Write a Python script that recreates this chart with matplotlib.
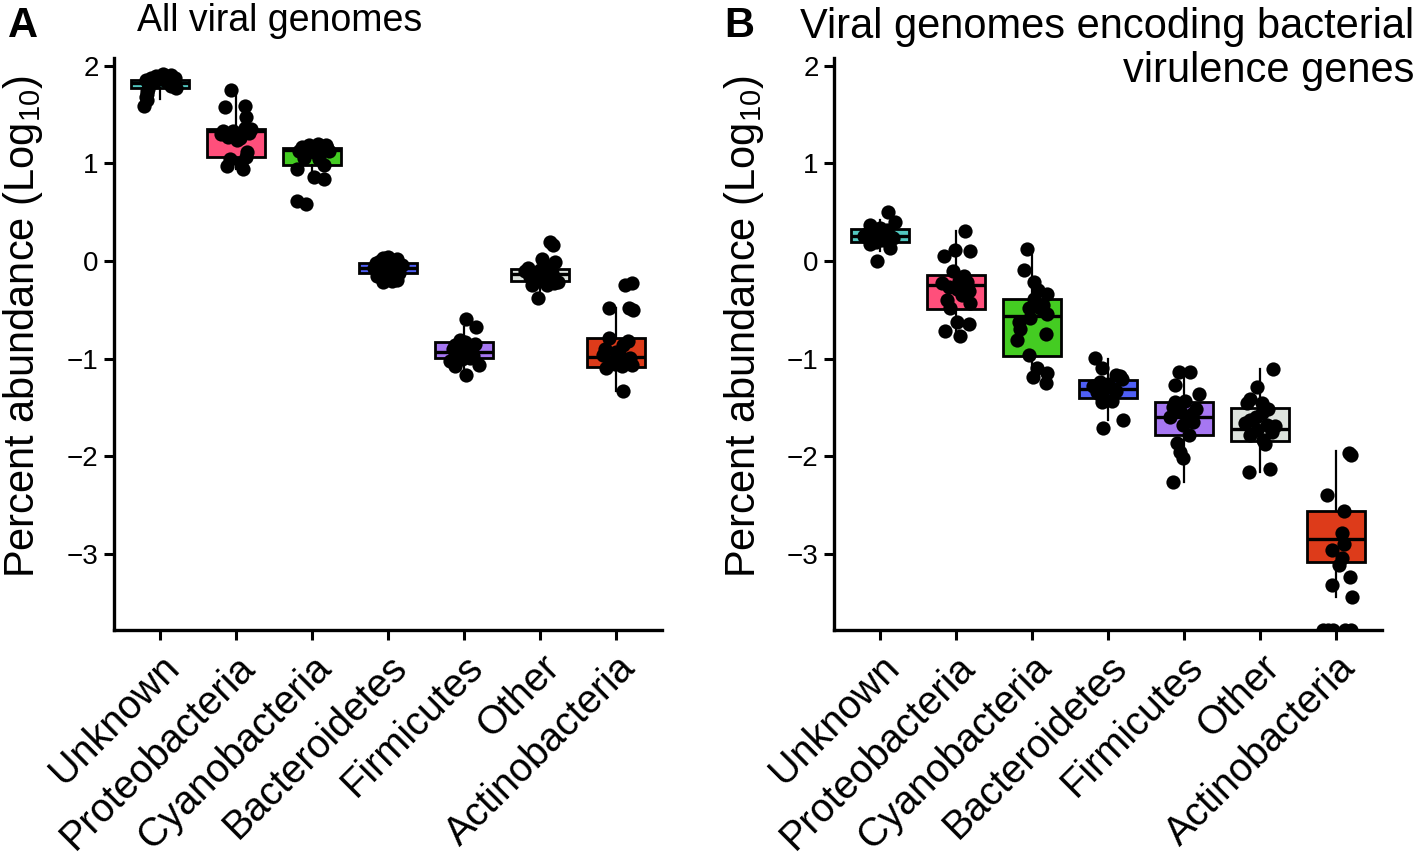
import numpy as np
import matplotlib.pyplot as plt
from matplotlib import rcParams

rcParams['font.family'] = ['Liberation Sans', 'DejaVu Sans']
rcParams['mathtext.default'] = 'regular'

categories = ['Unknown', 'Proteobacteria', 'Cyanobacteria', 'Bacteroidetes',
              'Firmicutes', 'Other', 'Actinobacteria']
colors = ['#52C7C0', '#FF4F7B', '#44CC22', '#4F5FF5', '#A677F2', '#DDE3DD', '#DD3B1A']

# ---- panel A: all viral genomes (log10 percent abundance) ----
# box stats: (whislo, q1, med, q3, whishi)
boxA = [
    (1.66, 1.77, 1.82, 1.855, 1.92),
    (0.94, 1.07, 1.33, 1.35, 1.75),
    (0.84, 0.985, 1.14, 1.16, 1.21),
    (-0.22, -0.12, -0.07, -0.02, 0.04),
    (-1.17, -0.99, -0.93, -0.834, -0.68),
    (-0.376, -0.205, -0.13, -0.082, 0.017),
    (-1.33, -1.084, -0.98, -0.787, -0.485),
]

unknownA = [1.92, 1.91, 1.90, 1.89, 1.88, 1.87, 1.86, 1.85, 1.84, 1.83,
            1.82, 1.81, 1.79, 1.77, 1.76, 1.74, 1.71, 1.68, 1.65, 1.59]
unknownA_jit = [0.05, 0.15, -0.05, 0.1, 0.2, -0.12, 0.0, -0.18, 0.08, -0.08,
                0.12, 0.18, 0.15, 0.22, -0.15, -0.17, -0.16, -0.18, -0.17, -0.2]
proteoA = [1.75, 1.58, 1.59, 1.48, 1.33, 1.33, 1.36, 1.27, 1.26, 1.31,
           1.07, 1.00, 0.97, 0.94, 1.31, 1.30, 1.24, 1.12, 1.35, 1.05]
proteoA_jit = [-0.06, -0.14, 0.12, 0.13, -0.17, -0.04, 0.12, -0.1, 0.05, -0.01,
               0.14, 0.07, -0.12, 0.09, 0.18, -0.2, 0.02, 0.15, 0.2, -0.08]
cyanoA = [1.19, 1.17, 1.13, 1.11, 1.06, 1.13, 1.15, 1.17, 1.19, 1.05,
          0.985, 0.94, 0.865, 0.84, 0.62, 0.585, 1.20, 1.12, 1.16]
cyanoA_jit = [-0.04, 0.13, -0.17, 0.05, -0.1, 0.22, 0.0, -0.13, 0.18, 0.09,
              0.16, -0.2, 0.03, 0.16, -0.2, -0.08, 0.08, -0.05, 0.2]
bacteroA = [0.028, 0.017, -0.024, -0.06, -0.04, -0.09, -0.1, -0.14, -0.21, -0.19,
            -0.2, 0.04, -0.02, -0.07, -0.12, -0.15, -0.05, -0.08, 0.0]
bacteroA_jit = [-0.07, 0.12, -0.16, 0.02, 0.19, -0.11, 0.08, -0.03, -0.07, 0.12,
                0.05, 0.0, 0.1, -0.18, 0.15, -0.14, 0.06, -0.05, -0.1]
firmiA = [-0.595, -0.68, -0.86, -0.83, -0.85, -0.95, -0.93, -1.02, -1.0, -1.07,
          -1.08, -1.17, -0.88, -0.9, -0.92, -0.97, -0.81, -0.99]
firmiA_jit = [0.03, 0.16, -0.12, 0.01, 0.14, -0.1, 0.1, -0.18, -0.03, 0.19,
              -0.12, 0.03, 0.0, -0.15, 0.06, 0.12, -0.06, 0.08]
otherA = [0.198, 0.164, 0.017, -0.007, -0.075, -0.09, -0.13, -0.14, -0.21, -0.25,
          -0.25, -0.376, -0.1, -0.12, -0.18, -0.2, -0.05, -0.16, -0.22]
otherA_jit = [0.13, 0.17, 0.02, 0.2, -0.16, 0.0, 0.1, -0.09, 0.24, -0.11,
              0.09, -0.03, -0.2, 0.15, 0.05, -0.06, 0.06, -0.14, 0.18]
actinoA = [-0.246, -0.23, -0.485, -0.485, -0.5, -0.79, -0.86, -0.93, -0.96, -1.03,
           -1.02, -1.1, -1.08, -1.07, -1.33, -0.82, -0.9, -0.97, -1.05, -0.99]
actinoA_jit = [0.11, 0.21, -0.1, 0.17, 0.22, -0.09, 0.09, 0.0, -0.18, -0.08,
               0.14, -0.13, 0.07, 0.2, 0.09, 0.15, -0.15, 0.05, -0.02, 0.18]

# ---- panel B: viral genomes encoding bacterial virulence genes ----
boxB = [
    (0.10, 0.19, 0.26, 0.325, 0.42),
    (-0.78, -0.496, -0.246, -0.144, 0.31),
    (-1.25, -0.97, -0.56, -0.39, 0.12),
    (-1.63, -1.40, -1.306, -1.22, -1.0),
    (-2.26, -1.785, -1.597, -1.443, -1.135),
    (-2.16, -1.846, -1.716, -1.508, -1.11),
    (-3.44, -3.084, -2.85, -2.56, -1.95),
]

unknownB = [0.50, 0.40, 0.37, 0.335, 0.28, 0.27, 0.30, 0.25, 0.19, 0.17,
            0.13, 0.0, 0.32, 0.26, 0.22, 0.24, 0.21, 0.29]
unknownB_jit = [0.11, 0.2, -0.13, 0.0, -0.18, -0.07, 0.07, 0.15, -0.05, -0.13,
                0.13, -0.03, 0.1, -0.2, 0.05, 0.18, -0.1, -0.02]
proteoB = [0.31, 0.11, 0.10, 0.05, -0.10, -0.15, -0.21, -0.27, -0.29, -0.31,
           -0.43, -0.485, -0.62, -0.64, -0.72, -0.77, -0.23, -0.35, -0.2, -0.4]
proteoB_jit = [0.12, -0.01, 0.19, -0.16, -0.04, 0.11, 0.15, -0.09, 0.02, 0.18,
               0.19, -0.08, 0.02, 0.18, -0.14, 0.06, -0.18, 0.08, 0.04, -0.12]
cyanoB = [0.12, -0.09, -0.21, -0.34, -0.39, -0.485, -0.485, -0.54, -0.62, -0.70,
          -0.75, -0.81, -0.96, -1.10, -1.15, -1.19, -1.25, -0.3, -0.45, -0.58]
cyanoB_jit = [-0.06, -0.11, 0.03, 0.2, 0.03, -0.04, 0.11, 0.2, -0.17, -0.16,
              0.18, -0.19, -0.04, 0.07, 0.2, 0.01, 0.18, 0.08, 0.15, -0.02]
bacteroB = [-0.99, -1.10, -1.17, -1.18, -1.24, -1.29, -1.33, -1.34, -1.39, -1.43,
            -1.44, -1.63, -1.71, -1.26, -1.31, -1.36, -1.21, -1.28]
bacteroB_jit = [-0.17, -0.08, 0.11, 0.16, -0.1, -0.02, 0.11, -0.15, -0.06, 0.05,
                -0.08, 0.2, -0.06, 0.0, 0.08, -0.12, 0.18, -0.2]
firmiB = [-1.135, -1.135, -1.27, -1.36, -1.44, -1.43, -1.50, -1.54, -1.57, -1.62,
          -1.65, -1.785, -1.86, -1.956, -2.02, -2.26, -1.6, -1.52, -1.68]
firmiB_jit = [-0.07, 0.08, -0.12, 0.2, -0.12, 0.01, -0.14, -0.05, 0.1, 0.04,
              0.12, 0.07, -0.1, -0.05, -0.01, -0.15, -0.18, 0.16, -0.02]
otherB = [-1.11, -1.29, -1.41, -1.45, -1.45, -1.56, -1.63, -1.68, -1.69, -1.73,
          -1.785, -1.836, -1.87, -2.13, -2.16, -1.52, -1.6, -1.75, -1.66]
otherB_jit = [0.17, -0.04, -0.13, -0.18, 0.02, 0.02, -0.13, 0.09, 0.2, -0.04,
              -0.13, 0.04, 0.06, 0.13, -0.15, 0.1, -0.06, 0.15, -0.2]
# lowest samples sit below the axis floor and are drawn clipped at it
actinoB = [-1.97, -1.99, -2.40, -2.56, -2.79, -2.90, -2.96, -3.04, -3.11, -3.24,
           -3.32, -3.44, -3.78, -3.78, -3.78, -3.78, -3.78]
actinoB_jit = [0.16, 0.19, -0.12, 0.1, 0.07, 0.1, -0.06, 0.07, 0.03, 0.18,
               -0.06, 0.21, -0.17, -0.11, -0.05, 0.12, 0.19]

pointsA = [unknownA, proteoA, cyanoA, bacteroA, firmiA, otherA, actinoA]
jitterA = [unknownA_jit, proteoA_jit, cyanoA_jit, bacteroA_jit, firmiA_jit, otherA_jit, actinoA_jit]
pointsB = [unknownB, proteoB, cyanoB, bacteroB, firmiB, otherB, actinoB]
jitterB = [unknownB_jit, proteoB_jit, cyanoB_jit, bacteroB_jit, firmiB_jit, otherB_jit, actinoB_jit]

fig = plt.figure(figsize=(14.18, 8.6), dpi=100)


def draw_panel(ax, boxes, points, jitters):
    pos = np.arange(1, len(categories) + 1)
    stats = []
    for b in boxes:
        stats.append(dict(whislo=b[0], q1=b[1], med=b[2], q3=b[3], whishi=b[4], fliers=[]))
    bp = ax.bxp(stats, positions=pos, widths=0.76, patch_artist=True,
                showcaps=False, showfliers=False,
                boxprops=dict(linewidth=2.0, edgecolor='black'),
                medianprops=dict(color='black', linewidth=2.4),
                whiskerprops=dict(color='black', linewidth=1.6))
    for patch, c in zip(bp['boxes'], colors):
        patch.set_facecolor(c)
    for i, (vals, jit) in enumerate(zip(points, jitters)):
        ax.scatter(pos[i] + np.array(jit), vals, s=105, color='black',
                   linewidths=0, zorder=4)
    ax.set_xlim(0.4, 7.6)
    ax.set_ylim(-3.78, 2.08)
    ax.set_yticks([-3, -2, -1, 0, 1, 2])
    ax.set_yticklabels(['\u22123', '\u22122', '\u22121', '0', '1', '2'])
    ax.set_xticks(pos)
    ax.set_xticklabels(categories, rotation=45, ha='right', rotation_mode='anchor')
    ax.tick_params(axis='y', labelsize=20, width=2.2, length=7, pad=4)
    ax.tick_params(axis='x', labelsize=28.5, width=2.2, length=7, pad=6)
    for s in ['top', 'right']:
        ax.spines[s].set_visible(False)
    for s in ['left', 'bottom']:
        ax.spines[s].set_linewidth(2.4)
    ax.set_ylabel('Percent abundance (Log$_{10}$)', fontsize=30)
    ax.yaxis.set_label_coords(-0.125, 0.53)


axA = fig.add_axes([114 / 1418, 230 / 860, 548 / 1418, 572 / 860])
draw_panel(axA, boxA, pointsA, jitterA)
axB = fig.add_axes([834 / 1418, 230 / 860, 548 / 1418, 572 / 860])
draw_panel(axB, boxB, pointsB, jitterB)

fig.text(8 / 1418, 1 - 6 / 860, 'A', fontsize=30, fontweight='heavy', va='top')
fig.text(137 / 1418, 1 - 3 / 860, 'All viral genomes', fontsize=27, va='top')
fig.text(724 / 1418, 1 - 6 / 860, 'B', fontsize=30, fontweight='heavy', va='top')
fig.text(1414 / 1418, 1 - 38 / 860, 'Viral genomes encoding bacterial',
         fontsize=30, va='baseline', ha='right')
fig.text(1414 / 1418, 1 - 82 / 860, 'virulence genes',
         fontsize=30, va='baseline', ha='right')

plt.savefig('out.png', dpi=100)
